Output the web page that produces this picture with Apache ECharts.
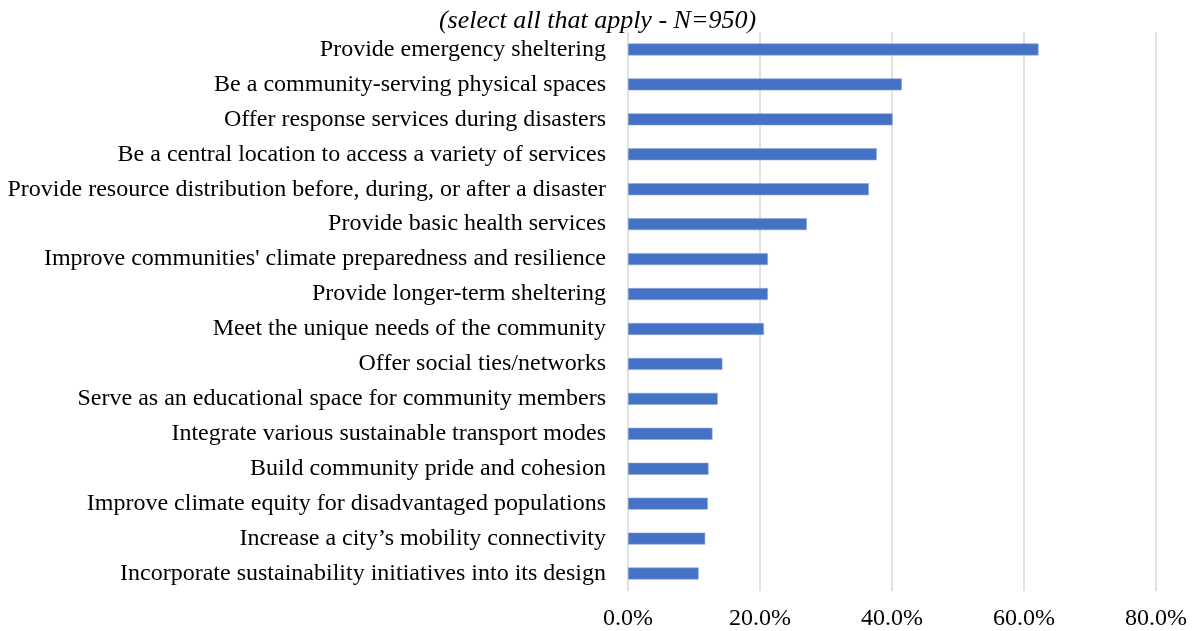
<!DOCTYPE html>
<html><head><meta charset="utf-8">
<script src="https://cdn.jsdelivr.net/npm/echarts@6/dist/echarts.min.js"></script>
<style>html,body{margin:0;padding:0;background:#fff}#c{width:1195px;height:631px}</style>
</head><body><div id="c"></div>
<script>
const categories = [
  "Provide emergency sheltering",
  "Be a community-serving physical spaces",
  "Offer response services during disasters",
  "Be a central location to access a variety of services",
  "Provide resource distribution before, during, or after a disaster",
  "Provide basic health services",
  "Improve communities' climate preparedness and resilience",
  "Provide longer-term sheltering",
  "Meet the unique needs of the community",
  "Offer social ties/networks",
  "Serve as an educational space for community members",
  "Integrate various sustainable transport modes",
  "Build community pride and cohesion",
  "Improve climate equity for disadvantaged populations",
  "Increase a city\u2019s mobility connectivity",
  "Incorporate sustainability initiatives into its design"
];
const values = [62.2, 41.5, 40.1, 37.7, 36.5, 27.1, 21.2, 21.2, 20.6, 14.3, 13.6, 12.8, 12.2, 12.1, 11.7, 10.7];
const titleText = "(select all that apply - N=950)";

const chart = echarts.init(document.getElementById('c'));
const font = "'Liberation Serif','Times New Roman',serif";
chart.setOption({
  animation: false,
  title: {
    text: titleText, left: 'center', top: 3,
    textStyle: {fontFamily: font, fontStyle: 'italic', fontWeight: 'normal', fontSize: 26, color: '#000'}
  },
  grid: {left: 628, right: 39, top: 32, bottom: 39, containLabel: false},
  xAxis: {
    type: 'value', min: 0, max: 80, interval: 20,
    axisLine: {show: false}, axisTick: {show: false},
    splitLine: {show: true, lineStyle: {color: '#d9d9d9', width: 1.5}},
    axisLabel: {formatter: v => v.toFixed(1) + '%', fontFamily: font, fontSize: 24, color: '#000', margin: 16}
  },
  yAxis: {
    type: 'category', data: categories, inverse: true,
    axisLine: {show: false}, axisTick: {show: false},
    axisLabel: {fontFamily: font, fontSize: 24, color: '#000', margin: 22, padding: [3, 0, 0, 0]}
  },
  series: [{
    type: 'bar', data: values, barWidth: 12,
    itemStyle: {color: '#4472C4', borderColor: '#8faadc', borderWidth: 0.6}
  }]
});
</script></body></html>
